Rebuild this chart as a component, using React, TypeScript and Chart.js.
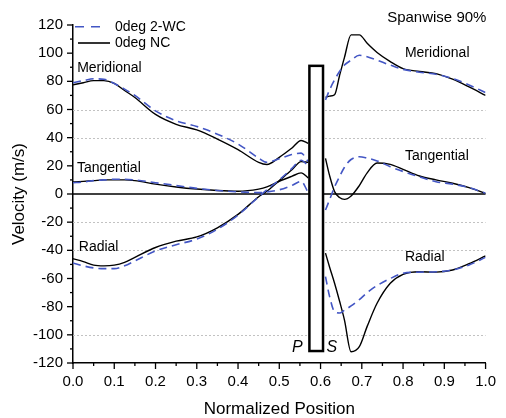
import React, { useEffect, useRef } from 'react';
import { Chart, registerables } from 'chart.js';

Chart.register(...registerables);

// x positions (normalized) on pressure side and suction side
const psX = [0, 0.025, 0.05, 0.075, 0.1, 0.125, 0.15, 0.2, 0.25, 0.3, 0.35, 0.4, 0.45, 0.47, 0.5, 0.53, 0.553, 0.57];
const ssX = [0.612, 0.622, 0.634, 0.646, 0.658, 0.674, 0.694, 0.713, 0.737, 0.769, 0.8, 0.84, 0.88, 0.92, 0.96, 1.0];

// 0deg NC (solid black)
const ncMeridionalPS = [77.5, 79, 80.5, 80.5, 78.5, 73.5, 68.5, 56.5, 49.5, 45.5, 39, 31.5, 22.5, 21, 26, 32.5, 38, 36];
const ncTangentialPS = [8.5, 9, 9.5, 10, 10, 10, 9.5, 7, 5, 3.5, 2.5, 2, 3.5, 5, 9, 12.5, 15, 11.5];
const ncRadialPS = [-46, -48, -50.5, -51, -50.5, -48.5, -45, -38, -33.5, -30.5, -24, -14.5, -2, 2, 9.5, 17, 23, 22.5];
const ncMeridionalSS = [68.7, 69.5, 70.5, 84, 97, 113, 113, 107, 100.5, 94, 89, 87, 85.5, 81.5, 76, 70];
const ncTangentialSS = [25.3, 13, 1.7, -2.5, -3.8, -1.4, 6, 15, 22, 21, 17.5, 12.8, 10, 7.6, 4.5, 0.5];
const ncRadialSS = [-42, -52, -63.4, -76, -89.5, -112, -108.4, -94, -77.6, -63.4, -57, -55.2, -55.5, -54, -49.5, -44];

// 0deg 2-WC (dashed blue)
const wcMeridionalPS = [79, 80.5, 81.8, 81.5, 78.5, 74.5, 70, 59, 52, 48, 42.5, 35.5, 25.5, 22.5, 25, 28, 29, 23];
const wcTangentialPS = [8, 8.5, 9.5, 10, 10.5, 10.5, 10, 8, 6, 4, 2.5, 1.5, 1, 1.5, 3, 6, 9, 1];
const wcRadialPS = [-49, -51, -52.5, -53, -53, -51, -47.5, -40.5, -36, -32, -25, -15, -2, 3, 10, 18, 24, 20];
const wcMeridionalSS = [66.8, 74, 81, 87, 91.6, 95, 98.5, 97.5, 95, 91.5, 88.5, 86.5, 85, 82, 77.4, 72];
const wcTangentialSS = [-11.4, -4, 5, 12.3, 19, 24.5, 26.5, 25.5, 23.5, 19.4, 16, 12.2, 8.7, 7, 4.5, 0.5];
const wcRadialSS = [-58.7, -72.9, -83.6, -84.5, -82.5, -79.5, -75, -70, -65, -60, -56.3, -55.5, -55.2, -54, -50.4, -45];

const seriesNames = ['0deg 2-WC', '0deg NC'];
const yDottedGrid = [60, 40, -20, -40, -100];
const bladeXRange = [0.573, 0.606];
const bladeYRange = [-111.5, 91];

const FONT = '"Liberation Sans", Arial, sans-serif';
const BLUE = '#4356c4';

const toPts = (xs: number[], ys: number[]) => xs.map((x, i) => ({ x, y: ys[i] }));

const labelsData = [
  { text: 'Meridional', x: 0.01, y: 89.3, align: 'left' },
  { text: 'Tangential', x: 0.0095, y: 18.7, align: 'left' },
  { text: 'Radial', x: 0.014, y: -37.4, align: 'left' },
  { text: 'Meridional', x: 0.8045, y: 99.9, align: 'left' },
  { text: 'Tangential', x: 0.8045, y: 27, align: 'left' },
  { text: 'Radial', x: 0.8045, y: -44.5, align: 'left' },
];

const decorPlugin = {
  id: 'decor',
  beforeDatasetsDraw(chart: any) {
    const { ctx, chartArea: a, scales } = chart;
    const y = scales.y;
    ctx.save();
    ctx.strokeStyle = '#c2c2c2';
    ctx.lineWidth = 1;
    ctx.setLineDash([2, 2]);
    for (const v of yDottedGrid) {
      const py = Math.round(y.getPixelForValue(v)) + 0.5;
      ctx.beginPath();
      ctx.moveTo(a.left, py);
      ctx.lineTo(a.right, py);
      ctx.stroke();
    }
    ctx.setLineDash([]);
    ctx.strokeStyle = '#000';
    ctx.lineWidth = 1.5;
    const y0 = y.getPixelForValue(0);
    ctx.beginPath();
    ctx.moveTo(a.left, y0);
    ctx.lineTo(a.right, y0);
    ctx.stroke();
    ctx.restore();
  },
  afterDatasetsDraw(chart: any) {
    const { ctx, chartArea: a, scales } = chart;
    const x = scales.x;
    const y = scales.y;
    ctx.save();
    // blade
    const bx0 = x.getPixelForValue(bladeXRange[0]);
    const bx1 = x.getPixelForValue(bladeXRange[1]);
    const by0 = y.getPixelForValue(bladeYRange[1]);
    const by1 = y.getPixelForValue(bladeYRange[0]);
    ctx.fillStyle = '#fff';
    ctx.fillRect(bx0, by0, bx1 - bx0, by1 - by0);
    ctx.strokeStyle = '#000';
    ctx.lineWidth = 2.5;
    ctx.strokeRect(bx0, by0, bx1 - bx0, by1 - by0);

    // P / S
    ctx.fillStyle = '#000';
    ctx.font = `italic 16px ${FONT}`;
    ctx.textBaseline = 'middle';
    ctx.textAlign = 'left';
    ctx.fillText('P', x.getPixelForValue(0.531), y.getPixelForValue(-108.9));
    ctx.fillText('S', x.getPixelForValue(0.6145), y.getPixelForValue(-108.9));

    // component labels
    ctx.font = `14px ${FONT}`;
    for (const l of labelsData) {
      ctx.textAlign = l.align as CanvasTextAlign;
      ctx.fillText(l.text, x.getPixelForValue(l.x), y.getPixelForValue(l.y));
    }
    ctx.font = `15px ${FONT}`;
    ctx.textAlign = 'right';
    ctx.fillText('Spanwise 90%', x.getPixelForValue(1.002), y.getPixelForValue(125));

    // legend
    ctx.textAlign = 'left';
    ctx.font = `14px ${FONT}`;
    const ly1 = a.top + 1.7;
    const ly2 = a.top + 18;
    ctx.strokeStyle = BLUE;
    ctx.lineWidth = 1.6;
    ctx.setLineDash([9, 7]);
    ctx.beginPath();
    ctx.moveTo(a.left + 2, ly1);
    ctx.lineTo(a.left + 31, ly1);
    ctx.stroke();
    ctx.setLineDash([]);
    ctx.strokeStyle = '#000';
    ctx.lineWidth = 1.6;
    ctx.beginPath();
    ctx.moveTo(a.left + 5, ly2);
    ctx.lineTo(a.left + 37, ly2);
    ctx.stroke();
    ctx.fillStyle = '#000';
    ctx.fillText(seriesNames[0], a.left + 42, ly1);
    ctx.fillText(seriesNames[1], a.left + 42, ly2);

    // tick marks
    ctx.strokeStyle = '#000';
    ctx.lineWidth = 1.3;
    for (let v = -120; v <= 120; v += 10) {
      const py = y.getPixelForValue(v);
      const len = v % 20 === 0 ? 6 : 3;
      ctx.beginPath();
      ctx.moveTo(a.left - len, py);
      ctx.lineTo(a.left, py);
      ctx.stroke();
    }
    for (let i = 0; i <= 20; i++) {
      const px = x.getPixelForValue(i * 0.05);
      const len = i % 2 === 0 ? 6 : 3;
      ctx.beginPath();
      ctx.moveTo(px, a.bottom);
      ctx.lineTo(px, a.bottom + len);
      ctx.stroke();
    }
    ctx.restore();
  },
};

const mk = (pts: any[], dashed: boolean) => ({
  data: pts,
  borderColor: dashed ? BLUE : '#000',
  borderWidth: dashed ? 1.6 : 1.4,
  borderDash: dashed ? [8, 5] : [],
  pointRadius: 0,
  fill: false,
  cubicInterpolationMode: 'monotone' as const,
});

export default function App() {
  const ref = useRef<HTMLCanvasElement>(null);
  useEffect(() => {
    if (!ref.current) return;
    const chart = new Chart(ref.current, {
      type: 'line',
      data: {
        datasets: [
          mk(toPts(psX, wcMeridionalPS), true),
          mk(toPts(psX, wcTangentialPS), true),
          mk(toPts(psX, wcRadialPS), true),
          mk(toPts(ssX, wcMeridionalSS), true),
          mk(toPts(ssX, wcTangentialSS), true),
          mk(toPts(ssX, wcRadialSS), true),
          mk(toPts(psX, ncMeridionalPS), false),
          mk(toPts(psX, ncTangentialPS), false),
          mk(toPts(psX, ncRadialPS), false),
          mk(toPts(ssX, ncMeridionalSS), false),
          mk(toPts(ssX, ncTangentialSS), false),
          mk(toPts(ssX, ncRadialSS), false),
        ],
      },
      options: {
        animation: false,
        responsive: false,
        layout: { padding: { top: 25, right: 12, left: 0, bottom: 0 } },
        plugins: { legend: { display: false }, tooltip: { enabled: false } },
        scales: {
          x: {
            type: 'linear',
            min: 0,
            max: 1,
            afterFit: (s: any) => { s.height = 55; },
            ticks: {
              stepSize: 0.1,
              autoSkip: false,
              maxRotation: 0,
              padding: 10,
              color: '#000',
              font: { size: 15, family: FONT },
              callback: (v: any) => Number(v).toFixed(1),
            },
            grid: { display: false, drawTicks: false },
            border: { display: true, color: '#000', width: 1.5 },
            title: {
              display: true,
              text: 'Normalized Position',
              color: '#000',
              font: { size: 17, family: FONT, lineHeight: 1.0 },
              padding: { top: 0, bottom: 0 },
            },
          },
          y: {
            type: 'linear',
            min: -120,
            max: 120,
            afterFit: (s: any) => { s.width = 73; },
            ticks: {
              stepSize: 20,
              autoSkip: false,
              padding: 10,
              color: '#000',
              font: { size: 15, family: FONT },
            },
            grid: { display: false, drawTicks: false },
            border: { display: true, color: '#000', width: 1.5 },
            title: {
              display: true,
              text: 'Velocity (m/s)',
              color: '#000',
              font: { size: 17, family: FONT },
              padding: { top: 9, bottom: 0 },
            },
          },
        },
      },
      plugins: [decorPlugin],
    });
    return () => chart.destroy();
  }, []);
  return (
    <div style={{ position: 'absolute', left: 0, top: 0, width: 506, height: 418 }}>
      <canvas ref={ref} width={506} height={418} style={{ display: 'block' }} />
    </div>
  );
}
